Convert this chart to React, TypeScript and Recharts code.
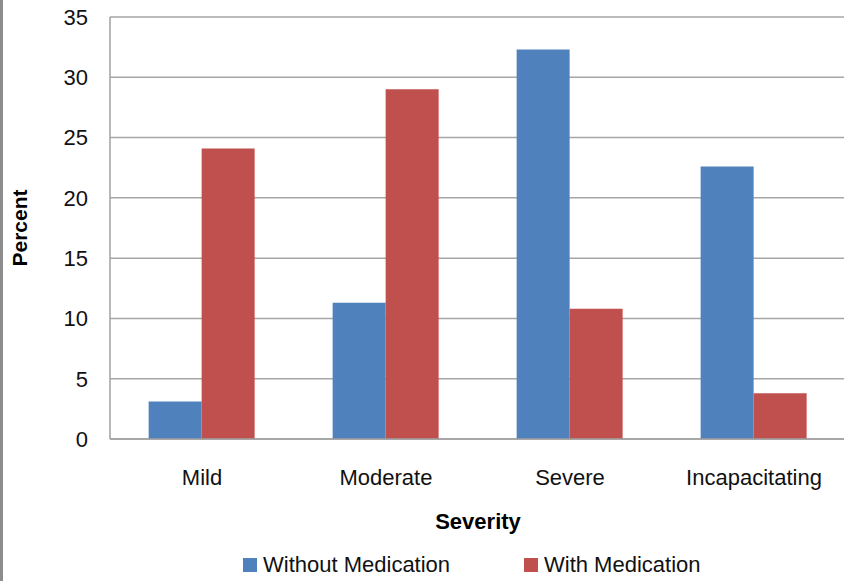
import { Bar, BarChart, CartesianGrid, Legend, XAxis, YAxis } from 'recharts';

const severities = ['Mild', 'Moderate', 'Severe', 'Incapacitating'];
const withoutMedication = [3.1, 11.3, 32.3, 22.6];
const withMedication = [24.1, 29.0, 10.8, 3.8];
const percentTicks = [0, 5, 10, 15, 20, 25, 30, 35];

const FONT = '"Liberation Sans", Arial, sans-serif';
const BLUE = '#4F81BD';
const RED = '#C0504D';

const rows = severities.map((severity, i) => ({
  severity,
  without: withoutMedication[i],
  with: withMedication[i],
}));

const legendItems = [
  { label: 'Without Medication', color: BLUE, left: 243 },
  { label: 'With Medication', color: RED, left: 524 },
];

function SeverityLegend() {
  return (
    <div style={{ position: 'relative', height: 42, fontFamily: FONT, fontSize: 22, color: '#111' }}>
      {legendItems.map((item) => (
        <div
          key={item.label}
          style={{ position: 'absolute', left: item.left, top: 13, display: 'flex', alignItems: 'center', whiteSpace: 'nowrap' }}
        >
          <span style={{ width: 14, height: 14, background: item.color, marginRight: 6, display: 'inline-block' }} />
          {item.label}
        </div>
      ))}
    </div>
  );
}

export default function App() {
  return (
    <div
      style={{
        position: 'absolute',
        left: 0,
        top: 0,
        width: 844,
        height: 581,
        overflow: 'hidden',
        background: '#fff',
      }}
    >
      <div style={{ position: 'absolute', left: 0, top: 0, width: 3, height: 581, background: '#8c8c8c' }} />
      <BarChart
        width={846}
        height={581}
        data={rows}
        margin={{ top: 17, right: 0, bottom: 0, left: 0 }}
        barCategoryGap="21%"
        barGap={0}
      >
        <CartesianGrid vertical={false} stroke="#a6a6a6" strokeWidth={1.5} />
        <XAxis
          dataKey="severity"
          height={100}
          tickLine={false}
          tickSize={0}
          tickMargin={30}
          axisLine={{ stroke: '#a0a0a0', strokeWidth: 1.5 }}
          tick={{ fill: '#111', fontSize: 22, fontFamily: FONT }}
          label={{
            value: 'Severity',
            position: 'insideBottom',
            offset: 10,
            fill: '#000',
            fontSize: 22,
            fontWeight: 'bold',
            fontFamily: FONT,
          }}
        />
        <YAxis
          width={110}
          domain={[0, 35]}
          ticks={percentTicks}
          interval={0}
          tickLine={false}
          tickSize={0}
          tickMargin={22}
          axisLine={{ stroke: '#a0a0a0', strokeWidth: 1.5 }}
          tick={{ fill: '#111', fontSize: 22, fontFamily: FONT }}
          label={{
            value: 'Percent',
            angle: -90,
            position: 'insideLeft',
            offset: 20,
            fill: '#000',
            fontSize: 21,
            fontWeight: 'bold',
            fontFamily: FONT,
            style: { textAnchor: 'middle' },
          }}
        />
        <Legend verticalAlign="bottom" content={() => <SeverityLegend />} wrapperStyle={{ left: 0, width: 846 }} />
        <Bar dataKey="without" name="Without Medication" fill={BLUE} isAnimationActive={false} />
        <Bar dataKey="with" name="With Medication" fill={RED} isAnimationActive={false} />
      </BarChart>
    </div>
  );
}
